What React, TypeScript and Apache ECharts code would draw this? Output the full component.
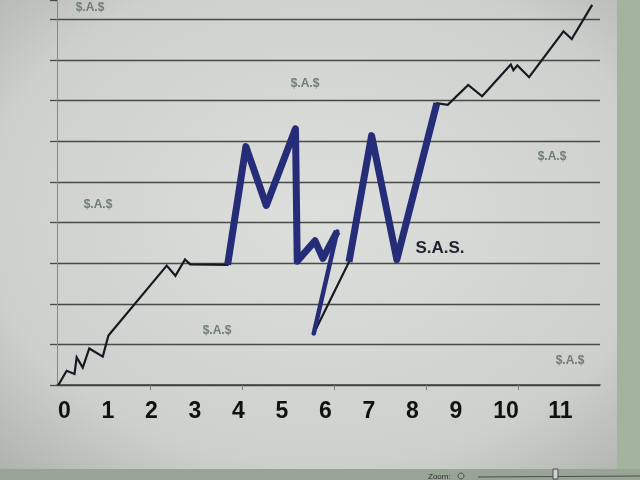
import React, { useEffect, useRef } from 'react';
import * as echarts from 'echarts';

// Tick labels along the bottom and where they sit on the x scale
const X_LABELS = ['0', '1', '2', '3', '4', '5', '6', '7', '8', '9', '10', '11'];
const X_LABEL_POS = [0, 1, 2, 3, 4, 5, 6, 7, 8, 9, 10.15, 11.4];
// Small tick marks on the x axis line (6 equal divisions in the original)
const X_TICK_POS = [1.97, 4.08, 6.2, 8.31, 10.43];

// The traced line (x, y; y in gridline units, centre of the stroke)
const PATH_X = [-0.14, 0.05, 0.23, 0.28, 0.42, 0.57, 0.88, 1.01, 2.35, 2.55, 2.77, 2.89, 3.75,
  4.17, 4.64, 5.31, 5.35, 5.76, 5.94, 6.27, 5.73, 6.54, 7.06, 7.64, 8.56, 8.81, 9.28, 9.6,
  10.26, 10.32, 10.41, 10.68, 11.47, 11.66, 12.13];
const PATH_Y = [0, 0.35, 0.27, 0.68, 0.43, 0.9, 0.7, 1.22, 2.94, 2.69, 3.09, 2.97, 2.96,
  5.87, 4.42, 6.31, 3.05, 3.55, 3.12, 3.78, 1.27, 3.03, 6.14, 3.09, 6.94, 6.9, 7.39, 7.11,
  7.89, 7.75, 7.87, 7.58, 8.71, 8.52, 9.36];

// Index ranges of the path that are painted over in blue ("MyN")
const BLUE_THICK = [[12, 19], [21, 24]];
const BLUE_THIN = [[19, 20]];

const WATERMARK = '$.A.$';
const CENTER_LABEL = 'S.A.S.';

const FONT = "'Liberation Sans', Arial, sans-serif";

function segData(ranges: number[][]) {
  const out: (number[] | null)[] = [];
  ranges.forEach((r, k) => {
    if (k > 0) out.push(null);
    for (let i = r[0]; i <= r[1]; i++) out.push([PATH_X[i], PATH_Y[i]]);
  });
  return out.map((p) => (p === null ? ['-', '-'] : p));
}

export default function App() {
  const ref = useRef<HTMLDivElement>(null);
  useEffect(() => {
    if (!ref.current) return;
    const chart = echarts.init(ref.current, undefined, { renderer: 'svg' });
    const lineData = PATH_X.map((x, i) => [x, PATH_Y[i]]);
    const wm = (x: number, y: number) => ({
      type: 'text',
      x,
      y,
      style: {
        text: WATERMARK,
        fill: '#6f7c77',
        fontSize: 12,
        fontWeight: 'bold',
        fontFamily: FONT,
        align: 'center',
        verticalAlign: 'middle',
      },
    });
    chart.setOption({
      animation: false,
      backgroundColor: new echarts.graphic.RadialGradient(0.5, 0.45, 0.8, [
        { offset: 0, color: '#dcdfdb' },
        { offset: 0.65, color: '#cdd0cc' },
        { offset: 1, color: '#a6a8a3' },
      ]),
      grid: { left: 57, right: 40, top: 0, bottom: 95 },
      xAxis: {
        type: 'value',
        min: -0.172,
        max: 12.31,
        splitLine: { show: false },
        axisLine: { show: true, lineStyle: { color: '#3e413e', width: 1.5 } },
        axisTick: {
          show: true,
          customValues: X_TICK_POS,
          length: 5,
          lineStyle: { color: '#7a7c78', width: 1 },
        },
        axisLabel: {
          show: true,
          customValues: X_LABEL_POS,
          formatter: (v: number) => {
            let best = 0;
            X_LABEL_POS.forEach((p, i) => {
              if (Math.abs(p - v) < Math.abs(X_LABEL_POS[best] - v)) best = i;
            });
            return X_LABELS[best];
          },
          fontSize: 23,
          fontWeight: 'bold',
          fontFamily: FONT,
          color: '#111111',
          margin: 13,
        },
      },
      yAxis: {
        type: 'value',
        min: 0,
        max: 9.48,
        interval: 1,
        axisLine: { show: true, onZero: false, lineStyle: { color: '#858783', width: 1 } },
        axisTick: { show: true, inside: false, length: 7, lineStyle: { color: '#474a47', width: 1.3 } },
        axisLabel: { show: false },
        splitLine: { show: true, showMaxLine: false, lineStyle: { color: '#474a47', width: 1.3 } },
      },
      series: [
        {
          type: 'line',
          data: lineData,
          symbol: 'none',
          lineStyle: { color: '#161a20', width: 2.2, join: 'miter' },
          z: 3,
        },
        {
          type: 'line',
          data: segData(BLUE_THICK),
          symbol: 'none',
          connectNulls: false,
          lineStyle: { color: '#252d78', width: 7, join: 'round' },
          z: 4,
        },
        {
          type: 'line',
          data: segData(BLUE_THIN),
          symbol: 'none',
          lineStyle: { color: '#252d78', width: 4.5, join: 'round', cap: 'round' },
          z: 4,
        },
      ],
      graphic: [
        { type: 'rect', shape: { x: 617, y: 0, width: 23, height: 480 }, style: { fill: '#a4b39e' } },
        { type: 'rect', shape: { x: 0, y: 469, width: 640, height: 11 }, style: { fill: '#98a496' } },
        {
          type: 'text', x: 428, y: 476,
          style: { text: 'Zoom:', fill: '#2f332f', fontSize: 8, fontFamily: FONT, verticalAlign: 'middle' },
        },
        { type: 'circle', shape: { cx: 461, cy: 476, r: 3 }, style: { fill: 'none', stroke: '#4a4f4a', lineWidth: 1 } },
        { type: 'line', shape: { x1: 478, y1: 477, x2: 640, y2: 476 }, style: { stroke: '#4a4f4a', lineWidth: 1 } },
        { type: 'rect', shape: { x: 553, y: 469, width: 5, height: 10 }, style: { fill: '#cdd2cd', stroke: '#4a4f4a', lineWidth: 1 } },
        wm(90, 7),
        wm(305, 83),
        wm(552, 156),
        wm(98, 204),
        wm(217, 330),
        wm(570, 360),
        {
          type: 'text', x: 440, y: 247,
          style: {
            text: CENTER_LABEL, fill: '#1d2230', fontSize: 17, fontWeight: 'bold', fontFamily: FONT,
            align: 'center', verticalAlign: 'middle',
          },
        },
      ],
    });
    return () => chart.dispose();
  }, []);
  return <div ref={ref} style={{ position: 'fixed', left: 0, top: 0, width: 640, height: 480 }} />;
}
